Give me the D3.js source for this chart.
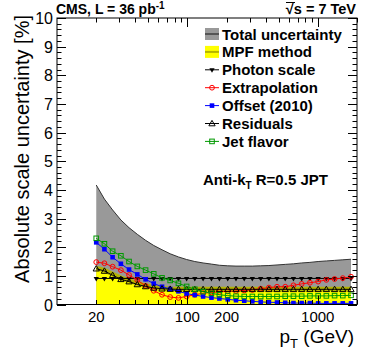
<!DOCTYPE html>
<meta charset="utf-8">
<html>
<head>
<script src="https://d3js.org/d3.v7.min.js"></script>
<style>
  body { margin: 0; background: white; }
  text { font-family: "Liberation Sans", Arial, sans-serif; fill: black; }
  .bold { font-weight: bold; }
</style>
</head>
<body>
<div id="chart"></div>
<script>
// values
const ptBins = [20, 23.1, 26.7, 30.9, 35.7, 41.3, 47.8, 55.2, 63.9, 73.8, 85.4, 98.7,
  114, 132, 153, 176, 204, 236, 273, 315, 365, 422, 487, 563, 651, 753, 871, 1007,
  1164, 1346, 1556, 1800];
const totalUnc = [4.17, 3.68, 3.3, 2.95, 2.68, 2.45, 2.24, 2.06, 1.91, 1.77, 1.66, 1.57,
  1.5, 1.45, 1.41, 1.37, 1.35, 1.34, 1.34, 1.34, 1.35, 1.36, 1.38, 1.4, 1.42, 1.45, 1.47,
  1.5, 1.52, 1.54, 1.56, 1.58];
const mpfMethod = [1.27, 1.2, 1.06, 0.93, 0.84, 0.74, 0.66, 0.61, 0.57, 0.55, 0.54, 0.54,
  0.54, 0.54, 0.54, 0.54, 0.54, 0.54, 0.54, 0.54, 0.54, 0.54, 0.54, 0.54, 0.54, 0.54, 0.54,
  0.54, 0.54, 0.54, 0.54, 0.54];
const photonScale = [0.91, 0.91, 0.91, 0.91, 0.91, 0.91, 0.91, 0.91, 0.91, 0.91, 0.91, 0.91,
  0.91, 0.91, 0.91, 0.91, 0.91, 0.91, 0.91, 0.91, 0.91, 0.91, 0.91, 0.91, 0.91, 0.91, 0.91,
  0.91, 0.91, 0.91, 0.91, 0.91];
const extrapolation = [1.48, 1.44, 1.32, 1.2, 1.03, 0.85, 0.65, 0.48, 0.34, 0.26, 0.23, 0.28,
  0.34, 0.39, 0.42, 0.44, 0.46, 0.47, 0.49, 0.51, 0.55, 0.59, 0.62, 0.62, 0.67, 0.72, 0.76,
  0.8, 0.86, 0.89, 0.92, 0.97];
const offset2010 = [2.17, 1.93, 1.65, 1.42, 1.22, 1.05, 0.88, 0.73, 0.62, 0.54, 0.46, 0.38,
  0.33, 0.28, 0.24, 0.21, 0.18, 0.15, 0.13, 0.11, 0.09, 0.08, 0.07, 0.06, 0.05, 0.05, 0.05,
  0.04, 0.04, 0.04, 0.04, 0.04];
const residuals = [1.25, 1.17, 1.02, 0.88, 0.8, 0.7, 0.63, 0.58, 0.55, 0.54, 0.53, 0.53,
  0.53, 0.53, 0.53, 0.53, 0.53, 0.53, 0.53, 0.53, 0.53, 0.53, 0.53, 0.53, 0.53, 0.53, 0.53,
  0.53, 0.53, 0.53, 0.53, 0.53];
const jetFlavor = [2.31, 2.12, 1.86, 1.7, 1.5, 1.33, 1.2, 1.07, 0.93, 0.84, 0.74, 0.63,
  0.53, 0.45, 0.39, 0.34, 0.31, 0.29, 0.28, 0.28, 0.28, 0.28, 0.28, 0.29, 0.29, 0.29, 0.3,
  0.3, 0.3, 0.31, 0.31, 0.32];
const xTickLabels = [20, 100, 200, 1000];
const yTickLabels = [0, 1, 2, 3, 4, 5, 6, 7, 8, 9, 10];

// layout
const W = 374, H = 359;
const padL = 57, padR = 357, padT = 18, padB = 304.5;
const colTotal = "#999999", colMpf = "#ffff00", colMpfLine = "#b4b400";

const svg = d3.select("#chart").append("svg")
  .attr("width", W).attr("height", H);

const x = d3.scaleLog().domain([10, 2000]).range([padL, padR]);
const y = d3.scaleLinear().domain([0, 10]).range([padB, padT]);

const pts = arr => ptBins.map((p, i) => [p, arr[i]]);

// clip to the frame
svg.append("clipPath").attr("id", "frame")
  .append("rect").attr("x", padL).attr("y", padT)
  .attr("width", padR - padL).attr("height", padB - padT);
const plot = svg.append("g").attr("clip-path", "url(#frame)");

const area = d3.area().x(d => x(d[0])).y0(y(0)).y1(d => y(d[1]));
const line = d3.line().x(d => x(d[0])).y(d => y(d[1]));

// total uncertainty band
plot.append("path").datum(pts(totalUnc))
  .attr("d", area).attr("fill", colTotal);
plot.append("path").datum(pts(totalUnc))
  .attr("d", line).attr("fill", "none").attr("stroke", "#333").attr("stroke-width", 1);

// MPF method band
plot.append("path").datum(pts(mpfMethod))
  .attr("d", area).attr("fill", colMpf);
plot.append("path").datum(pts(mpfMethod))
  .attr("d", line).attr("fill", "none").attr("stroke", colMpfLine).attr("stroke-width", 4.5);

// marker helpers
function marker(g, type, color, cx, cy) {
  if (type === "tridown") {
    g.append("path").attr("d", d3.symbol(d3.symbolTriangle, 12)())
      .attr("transform", `translate(${cx},${cy}) rotate(180)`).attr("fill", color);
  } else if (type === "triup") {
    g.append("path").attr("d", d3.symbol(d3.symbolTriangle, 17)())
      .attr("transform", `translate(${cx},${cy + 0.5})`)
      .attr("fill", "none").attr("stroke", color).attr("stroke-width", 1);
  } else if (type === "circle") {
    g.append("circle").attr("cx", cx).attr("cy", cy).attr("r", 2.4)
      .attr("fill", "none").attr("stroke", color).attr("stroke-width", 1);
  } else if (type === "fsquare") {
    g.append("rect").attr("x", cx - 2.3).attr("y", cy - 2.3)
      .attr("width", 4.6).attr("height", 4.6).attr("fill", color);
  } else if (type === "osquare") {
    g.append("rect").attr("x", cx - 2.3).attr("y", cy - 2.3)
      .attr("width", 4.6).attr("height", 4.6)
      .attr("fill", "none").attr("stroke", color).attr("stroke-width", 1);
  }
}

const series = [
  { name: "Photon scale", vals: photonScale, color: "#000000", type: "tridown" },
  { name: "Extrapolation", vals: extrapolation, color: "#ff0000", type: "circle" },
  { name: "Offset (2010)", vals: offset2010, color: "#0000ff", type: "fsquare" },
  { name: "Residuals", vals: residuals, color: "#000000", type: "triup" },
  { name: "Jet flavor", vals: jetFlavor, color: "#009900", type: "osquare" }
];

series.forEach(s => {
  const g = plot.append("g");
  g.append("path").datum(pts(s.vals))
    .attr("d", line).attr("fill", "none").attr("stroke", s.color).attr("stroke-width", 1);
  pts(s.vals).forEach(d => marker(g, s.type, s.color, x(d[0]), y(d[1])));
});

// frame
svg.append("rect").attr("x", padL).attr("y", padT)
  .attr("width", padR - padL).attr("height", padB - padT)
  .attr("fill", "none").attr("stroke", "black").attr("stroke-width", 1);

// y ticks (left + right, inward)
const axes = svg.append("g").attr("stroke", "black").attr("stroke-width", 1);
d3.range(0, 10.01, 0.2).forEach(v => {
  const major = Math.abs(v - Math.round(v)) < 1e-6;
  const len = major ? 9 : 4.5;
  const yy = Math.round(y(v)) + 0.5;
  axes.append("line").attr("x1", padL).attr("x2", padL + len).attr("y1", yy).attr("y2", yy);
  axes.append("line").attr("x1", padR).attr("x2", padR - len).attr("y1", yy).attr("y2", yy);
});
svg.selectAll(".ylab").data(yTickLabels).enter().append("text")
  .attr("x", padL - 4).attr("y", d => y(d) + 6)
  .attr("text-anchor", "end").style("font-size", "16px").text(d => d);

// x ticks (bottom + top, inward)
const xTicks = [];
[10, 100, 1000].forEach(dec => {
  for (let k = 1; k <= 9; k++) {
    const v = dec * k;
    if (v > 10 && v <= 2000) xTicks.push(v);
  }
});
xTicks.forEach(v => {
  const major = (v === 100 || v === 1000);
  const len = major ? 9 : 4.5;
  const xx = Math.round(x(v)) + 0.5;
  axes.append("line").attr("x1", xx).attr("x2", xx).attr("y1", padB).attr("y2", padB - len);
  axes.append("line").attr("x1", xx).attr("x2", xx).attr("y1", padT).attr("y2", padT + len);
});
svg.selectAll(".xlab").data(xTickLabels).enter().append("text")
  .attr("x", d => x(d)).attr("y", 322)
  .attr("text-anchor", "middle").style("font-size", "15px").text(d => d);

// axis titles
svg.append("text")
  .attr("transform", "translate(29,149) rotate(-90)")
  .attr("text-anchor", "middle").style("font-size", "20px")
  .text("Absolute scale uncertainty [%]");

const xt = svg.append("text").attr("x", 354).attr("y", 343)
  .attr("text-anchor", "end").style("font-size", "19px");
xt.append("tspan").text("p");
xt.append("tspan").attr("dy", 5).style("font-size", "13px").text("T");
xt.append("tspan").attr("dy", -5).text(" (GeV)");

// header
const hl = svg.append("text").attr("class", "bold").attr("x", 56).attr("y", 14)
  .style("font-size", "14px");
hl.append("tspan").text("CMS, L = 36 pb");
hl.append("tspan").attr("dy", -5).style("font-size", "10px").text("-1");

svg.append("text").attr("class", "bold").attr("x", 356).attr("y", 14)
  .attr("text-anchor", "end").style("font-size", "14.5px").text("√s = 7 TeV");
svg.append("line").attr("x1", 286).attr("x2", 295).attr("y1", 2.5).attr("y2", 2.5)
  .attr("stroke", "black").attr("stroke-width", 1);

// legend
const legX = 205, legTextX = 222, legY0 = 34, legDy = 17.9;
const leg = svg.append("g");
// total
leg.append("rect").attr("x", legX).attr("y", legY0 - 6).attr("width", 14).attr("height", 12)
  .attr("fill", colTotal);
leg.append("line").attr("x1", legX).attr("x2", legX + 14).attr("y1", legY0).attr("y2", legY0)
  .attr("stroke", "#555").attr("stroke-width", 2);
// mpf
leg.append("rect").attr("x", legX).attr("y", legY0 + legDy - 6).attr("width", 14).attr("height", 12)
  .attr("fill", colMpf);
leg.append("line").attr("x1", legX).attr("x2", legX + 14)
  .attr("y1", legY0 + legDy).attr("y2", legY0 + legDy)
  .attr("stroke", colMpfLine).attr("stroke-width", 2);

const legNames = ["Total uncertainty", "MPF method"].concat(series.map(s => s.name));
series.forEach((s, i) => {
  const yy = legY0 + legDy * (i + 2);
  leg.append("line").attr("x1", legX).attr("x2", legX + 14).attr("y1", yy).attr("y2", yy)
    .attr("stroke", s.color).attr("stroke-width", 1);
  marker(leg, s.type, s.color, legX + 7, yy);
});
leg.selectAll(".legtext").data(legNames).enter().append("text")
  .attr("class", "bold").attr("x", legTextX).attr("y", (d, i) => legY0 + legDy * i + 5.5)
  .style("font-size", "15px").text(d => d);

// algorithm label
const al = svg.append("text").attr("class", "bold").attr("x", 203).attr("y", 185)
  .style("font-size", "15px");
al.append("tspan").text("Anti-k");
al.append("tspan").attr("dy", 4).style("font-size", "10px").text("T");
al.append("tspan").attr("dy", -4).text(" R=0.5 JPT");
</script>
</body>
</html>
